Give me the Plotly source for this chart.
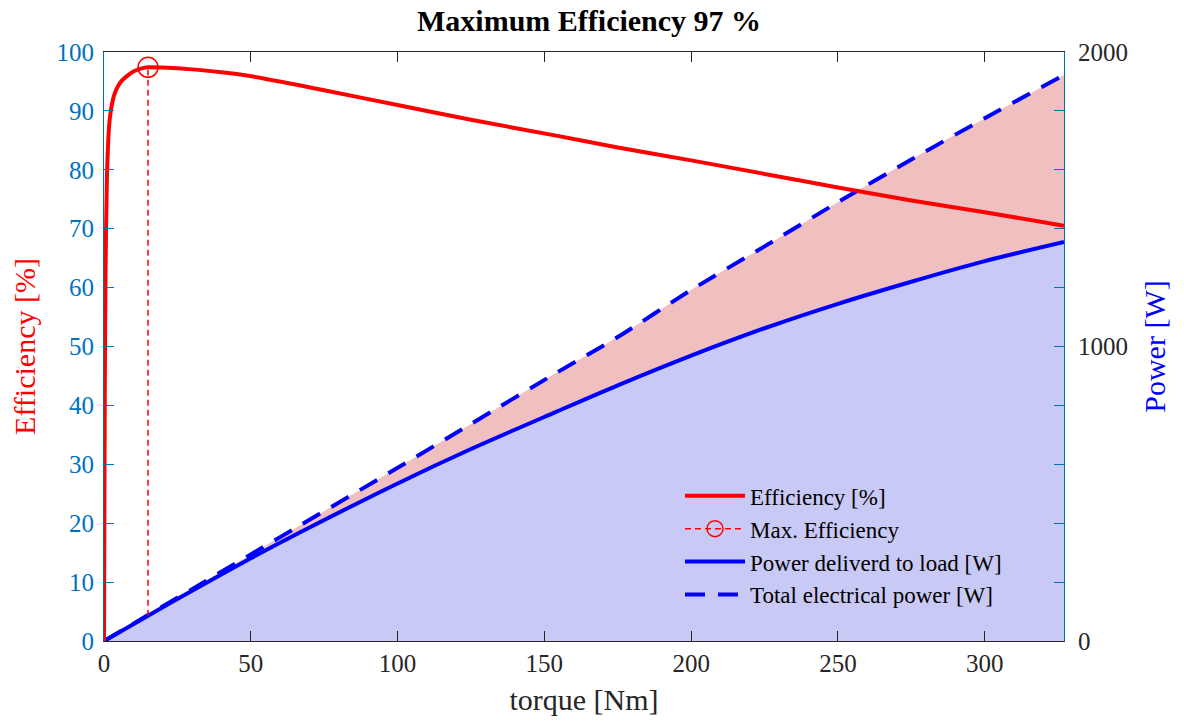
import plotly.graph_objects as go

# ---- data ----
torque = [0, 0.25, 0.5, 1, 1.5, 2, 3, 4, 5, 6, 8, 10, 12, 15, 20, 30, 40, 50,
          67, 75, 100, 125, 154, 175, 200, 225, 250, 260, 275, 300, 327]
efficiency = [0, 40, 62, 79, 85.5, 88.8, 91.8, 93.4, 94.4, 95.1, 96.0, 96.7, 97.1, 97.4,
              97.35, 97.05, 96.55, 95.9, 94.3, 93.5, 91.0, 88.5, 85.8, 83.8, 81.6, 79.3,
              77.0, 76.1, 74.8, 72.8, 70.5]

torque_p = [0, 15, 30, 50, 67, 100, 125, 154, 175, 200, 225, 250, 275, 300, 327]
power_load = [0, 86, 171, 281, 370, 535, 652, 778, 868, 969, 1062, 1145, 1220, 1290, 1355]
power_total = [0, 88, 176, 294, 394, 588, 737, 910, 1032, 1192, 1340, 1490, 1635, 1775, 1922]

x_range = [0, 327]
x_ticks = [0, 50, 100, 150, 200, 250, 300]
eff_ticks = [0, 10, 20, 30, 40, 50, 60, 70, 80, 90, 100]
pow_ticks = [0, 1000, 2000]

FONT = "Liberation Serif"
DARK = "#262626"
EFF_AX = "#0072BD"

# max efficiency point
imax = max(range(len(efficiency)), key=lambda i: efficiency[i])
t_max = torque[imax]
e_max = efficiency[imax]
p_at_max = power_load[torque_p.index(t_max)]
scale = 2000 / 100  # power axis units per efficiency unit

fig = go.Figure()

# fills (power axis = y, on the right)
fig.add_trace(go.Scatter(x=torque_p, y=power_load, mode="lines",
                         line=dict(width=0, shape="spline", smoothing=0.8),
                         fill="tozeroy", fillcolor="#C9C9F6", showlegend=False,
                         hoverinfo="skip", yaxis="y"))
fig.add_trace(go.Scatter(x=torque_p, y=power_total, mode="lines",
                         line=dict(width=0, shape="spline", smoothing=0.8),
                         fill="tonexty", fillcolor="#F0BFBF", showlegend=False,
                         hoverinfo="skip", yaxis="y"))
# power lines
fig.add_trace(go.Scatter(x=torque_p, y=power_load, mode="lines",
                         line=dict(color="#0000FF", width=4, shape="spline", smoothing=0.8),
                         name="Power deliverd to load [W]", legendrank=3, yaxis="y"))
fig.add_trace(go.Scatter(x=torque_p, y=power_total, mode="lines",
                         line=dict(color="#0000FF", width=4, dash="20px,13px",
                                   shape="spline", smoothing=0.8),
                         name="Total electrical power [W]", legendrank=4, yaxis="y"))

# efficiency (y2, left side, drawn on top)
fig.add_trace(go.Scatter(x=torque, y=efficiency, mode="lines",
                         line=dict(color="#FF0000", width=4, shape="spline", smoothing=0.6),
                         name="Efficiency [%]", legendrank=1, yaxis="y2"))
fig.add_trace(go.Scatter(x=[t_max, t_max], y=[p_at_max / scale, e_max], mode="lines",
                         line=dict(color="#FF0000", width=1.5, dash="6px,4px"),
                         showlegend=False, hoverinfo="skip", yaxis="y2"))
fig.add_trace(go.Scatter(x=[t_max], y=[e_max], mode="lines+markers",
                         line=dict(color="#FF0000", width=1.5, dash="6px,4px"),
                         marker=dict(symbol="circle-open", size=20, color="#FF0000",
                                     line=dict(width=1.5, color="#FF0000")),
                         name="Max. Efficiency", legendrank=2, yaxis="y2"))

fig.update_layout(
    width=1184, height=724,
    margin=dict(l=104, r=120, t=52, b=83),
    paper_bgcolor="white", plot_bgcolor="white",
    font=dict(family=FONT, color=DARK, size=24),
    title=dict(text="<b>Maximum Efficiency 97 %</b>", x=0.4975, xanchor="center",
               y=0.972, yanchor="middle", font=dict(size=30, color="black", family=FONT)),
    showlegend=True,
    legend=dict(x=0.60, y=0.283, xanchor="left", yanchor="top",
                bgcolor="rgba(0,0,0,0)", borderwidth=0,
                font=dict(size=23, family=FONT, color="black"),
                traceorder="normal", itemwidth=60, tracegroupgap=0),
    xaxis=dict(range=x_range, tickvals=x_ticks, ticks="inside", ticklen=10,
               tickcolor=DARK, showline=True, linecolor=DARK, linewidth=1,
               mirror="ticks", showgrid=False, zeroline=False,
               tickfont=dict(size=25, color=DARK),
               title=dict(text="torque [Nm]", font=dict(size=30, color=DARK), standoff=12)),
    yaxis=dict(range=[0, 2000], tickvals=pow_ticks, side="right", ticks="",
               showline=True, linecolor=DARK, linewidth=1, showgrid=False, zeroline=False,
               tickfont=dict(size=25, color=DARK), ticklabelstandoff=8,
               title=dict(text="Power [W]", font=dict(size=30, color="#0000FF"), standoff=16)),
    yaxis2=dict(range=[0, 100], tickvals=eff_ticks, side="left", overlaying="y",
                ticks="inside", ticklen=10, tickcolor=EFF_AX, showline=True,
                linecolor=EFF_AX, linewidth=1, mirror="ticks",
                showgrid=False, zeroline=False, ticklabelstandoff=4,
                tickfont=dict(size=25, color=EFF_AX),
                title=dict(text="Efficiency [%]", font=dict(size=30, color="#FF0000"), standoff=12)),
)

fig.write_html("out.html")
